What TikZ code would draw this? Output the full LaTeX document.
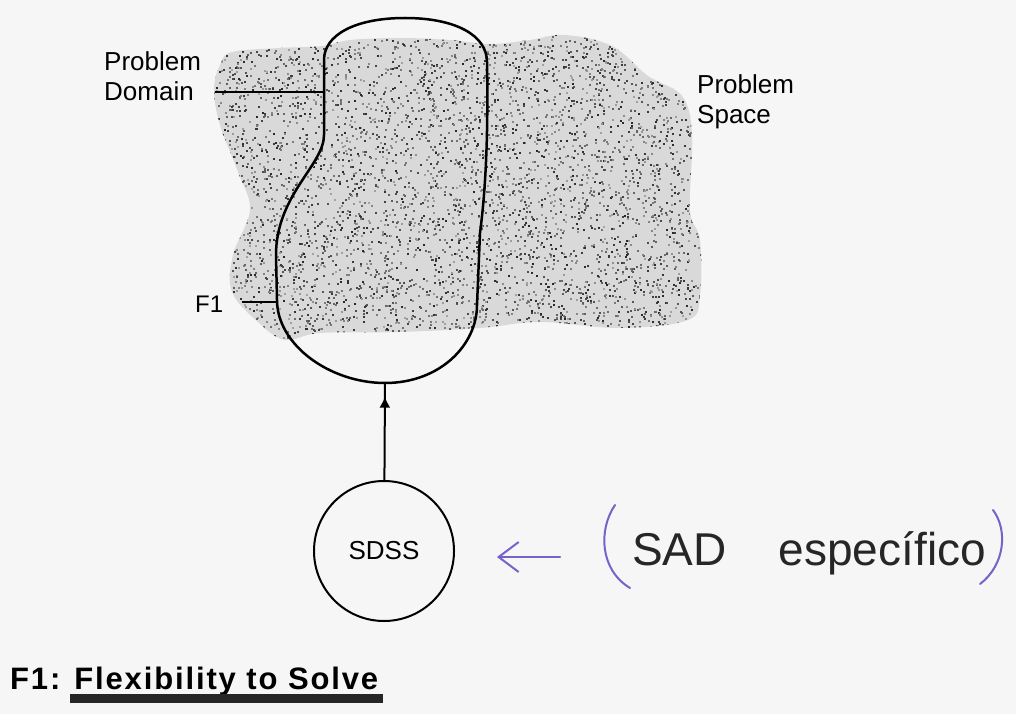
\documentclass[tikz,border=0pt]{standalone}
\usepackage{fontspec}
\setmainfont{Liberation Sans}
\usepackage{xcolor}
\usetikzlibrary{arrows.meta,decorations.markings}

\definecolor{penblue}{RGB}{118,98,200}
\definecolor{paper}{RGB}{246,246,246}

\tikzset{
  lbl/.style={inner sep=0pt, font=\fontsize{26}{30}\selectfont, align=left},
  outline/.style={line width=2.5pt},
  pointer/.style={line width=1.8pt},
  pen/.style={penblue, line width=2pt, line cap=round},
}

\begin{document}
\begin{tikzpicture}[x=1pt,y=-1pt]
    \fill[paper] (0,0) rectangle (1016,714);
    \useasboundingbox (0,0) rectangle (1016,714);

    % Problem space (stippled)
    \begin{scope}
      \clip plot[smooth cycle, tension=0.6] coordinates {
        (232,52) (280,48) (323,46) (350,40) (400,38) (450,40) (490,44)
        (530,40) (565,35) (612,46) (648,76) (682,96) (692,135) (690,210)
        (700,240) (700,295) (688,320) (620,328) (540,322) (480,328)
        (400,332) (320,333) (285,340) (258,322) (232,292) (233,255)
        (250,210) (238,172) (220,125) (214,90) (220,65)};
      \fill[black!15] (200,20) rectangle (710,350);
      \pgfmathsetseed{42}
      \foreach \i in {1,...,5000} {
        \pgfmathsetmacro\shade{35+50*rnd}
        \fill[black!\shade] (205+500*rnd, 25+320*rnd) rectangle +(2,2);
      }
    \end{scope}

    % Problem domain
    \draw[outline] (324,135) -- (324,60)
        .. controls (324,35) and (355,18) .. (405,18)
        .. controls (455,18) and (487,35) .. (487,62)
        .. controls (488,120) and (487,180) .. (480,233)
        -- (477,305)
        .. controls (477,345) and (440,383) .. (385,383)
        .. controls (330,383) and (277,345) .. (277,300)
        -- (276,255)
        .. controls (276,195) and (324,165) .. cycle;
    \coordinate (dombot) at (385,383);
    \coordinate (domtip) at (323,92);
    \coordinate (f1tip) at (277,302);

    \node[lbl, anchor=west] (domlbl) at (104,76) {Problem\\Domain};
    \draw[pointer] ([xshift=14pt]domlbl.east |- domtip) -- (domtip);
    \node[lbl, anchor=west] (spacelbl) at (697,102) {Problem\\Space};
    \node[lbl, anchor=base west, font=\fontsize{24}{28}\selectfont] (f1lbl) at (195,312) {F1};
    \draw[pointer] ([xshift=19pt]f1lbl.east |- f1tip) -- (f1tip);

    % SDSS
    \node[circle, draw, line width=2pt, minimum size=140pt, inner sep=0pt,
          font=\fontsize{26}{30}\selectfont] (sdss) at (384,551) {SDSS};
    \draw[line width=2pt, postaction={decorate},
          decoration={markings, mark=at position 0.86 with {\arrow{Latex[length=11pt,width=11pt]}}}]
          (sdss) -- (dombot);

    % handwritten note
    \coordinate (notetail) at (560,557);
    \coordinate (notetip) at (497,557);
    \draw[pen, -{Straight Barb[length=20pt,width=30pt]}] (notetail) -- (notetip);
    \draw[pen] (615,505) .. controls (598,530) and (600,570) .. (630,588);
    \node[anchor=base west, inner sep=0pt, text=black!85,
          font=\fontsize{46}{50}\selectfont] (note) at (632,565) {SAD\hspace{52pt}específico};
    \draw[pen] (993,510) .. controls (1008,530) and (1005,565) .. (980,584);

    % caption
    \node[anchor=base west, inner sep=0pt,
          font=\fontsize{31}{35}\selectfont\bfseries\addfontfeature{LetterSpace=6}] (title) at (10,689) {F1: Flexibility to Solve};
    \fill[black!85] (70,694) rectangle (383,703);
\end{tikzpicture}
\end{document}
